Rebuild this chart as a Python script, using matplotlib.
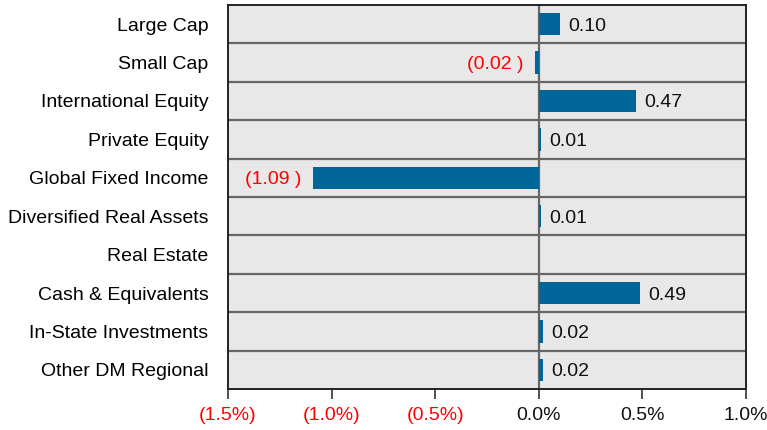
import numpy as np
import matplotlib.pyplot as plt

plt.rcParams["font.family"] = ["Liberation Sans", "DejaVu Sans"]

categories = ["Large Cap", "Small Cap", "International Equity", "Private Equity",
              "Global Fixed Income", "Diversified Real Assets", "Real Estate",
              "Cash & Equivalents", "In-State Investments", "Other DM Regional"]
values = [0.10, -0.02, 0.47, 0.01, -1.09, 0.01, 0.003, 0.49, 0.02, 0.02]
labels = ["0.10", "(0.02 )", "0.47", "0.01", "(1.09 )", "0.01", "", "0.49", "0.02", "0.02"]
xticks = [-1.5, -1.0, -0.5, 0.0, 0.5, 1.0]
xticklabels = ["(1.5%)", "(1.0%)", "(0.5%)", "0.0%", "0.5%", "1.0%"]

fig = plt.figure(figsize=(7.67, 4.30), dpi=100)
ax = fig.add_axes([0.2973, 0.0953, 0.6753, 0.8931])
ax.set_facecolor("#e8e8e8")

y = np.arange(len(categories))
ax.barh(y, values, height=0.58, color="#006699", zorder=3)

for yi in y[:-1]:
    ax.axhline(yi + 0.5, color="#666666", lw=1.6, zorder=2)
ax.axvline(0, color="#666666", lw=1.6, zorder=2)

for yi, v, lab in zip(y, values, labels):
    if not lab:
        continue
    if v >= 0:
        ax.annotate(lab, (v, yi), xytext=(6, 0), textcoords="offset points",
                    va="center_baseline", ha="left", fontsize=14, color="#111111")
    else:
        ax.annotate(lab, (v, yi), xytext=(-8, 0), textcoords="offset points",
                    va="center_baseline", ha="right", fontsize=14, color="red")

ax.set_xlim(-1.5, 1.0)
ax.set_ylim(len(categories) - 0.5, -0.5)
ax.set_yticks(y)
ax.set_yticklabels(categories, fontsize=14, va="center_baseline")
ax.tick_params(axis="y", length=0, pad=14)
ax.set_xticks(xticks)
ax.set_xticklabels(xticklabels, fontsize=14)
ax.tick_params(axis="x", length=7, width=1.2, color="#333333", pad=6)
for t, v in zip(ax.get_xticklabels(), xticks):
    t.set_color("red" if v < 0 else "#111111")
for s in ax.spines.values():
    s.set_color("#222222")
    s.set_linewidth(1.4)

fig.savefig("out.png", dpi=100)
